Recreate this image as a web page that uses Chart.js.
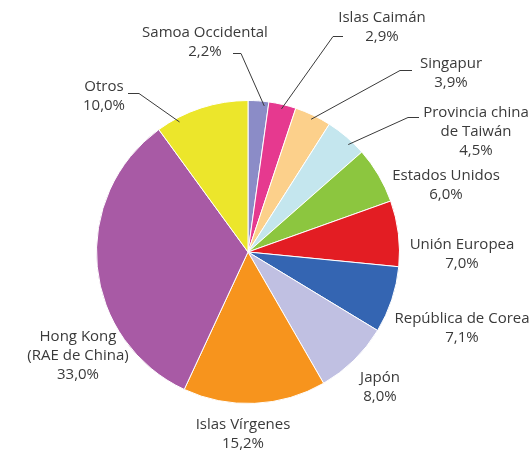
<!DOCTYPE html>
<html>
<head>
<meta charset="utf-8">
<script src="https://cdn.jsdelivr.net/npm/chart.js@4"></script>
<style>
  html, body { margin: 0; padding: 0; background: #fff; }
  #wrap { width: 532px; height: 450px; }
</style>
</head>
<body>
<div id="wrap"><canvas id="pieChart" width="532" height="450"></canvas></div>
<script>
// data
const categories = ["Samoa Occidental", "Islas Caimán", "Singapur", "Provincia china\nde Taiwán",
    "Estados Unidos", "Unión Europea", "República de Corea", "Japón", "Islas Vírgenes",
    "Hong Kong\n(RAE de China)", "Otros"];
const shares = [2.2, 2.9, 3.9, 4.5, 6.0, 7.0, 7.1, 8.0, 15.2, 33.0, 10.0];
const sliceColors = ["#8b8cc7", "#e6398f", "#fcd08b", "#c4e6ee", "#8cc63f", "#e31d23",
    "#3465b2", "#c0c0e2", "#f7941d", "#a85aa5", "#ece62b"];

// label placement: text centre x, first line y, optional leader (elbow x1..x2 at y, fraction along slice)
const labelLayout = [
    { x: 205, y: 33, leader: { x1: 233, x2: 241, y: 53, f: 0.8 } },
    { x: 382, y: 18, leader: { x1: 333, x2: 343, y: 36, f: 0.5 } },
    { x: 451, y: 64, leader: { x1: 400, x2: 412, y: 70, f: 0.5 } },
    { x: 476, y: 113, leader: { x1: 408, x2: 419, y: 117, f: 0.65 } },
    { x: 446, y: 176 },
    { x: 462, y: 245 },
    { x: 462, y: 319 },
    { x: 380, y: 378 },
    { x: 243, y: 425 },
    { x: 78, y: 337 },
    { x: 104, y: 87, leader: { x1: 128, x2: 139, y: 93, f: 0.23 } }
];

const lineGap = 19;

function pct(v) {
    return v.toFixed(1).replace(".", ",") + "%";
}

const outsideLabels = {
    id: "outsideLabels",
    afterDraw(chart) {
        const ctx = chart.ctx;
        const arcs = chart.getDatasetMeta(0).data;
        ctx.save();
        // leader lines
        ctx.strokeStyle = "#3a3a3a";
        ctx.lineWidth = 1;
        labelLayout.forEach((pos, i) => {
            if (!pos.leader) return;
            const arc = arcs[i];
            const p = arc.getProps(["x", "y", "startAngle", "endAngle", "outerRadius"], true);
            const a = p.startAngle + pos.leader.f * (p.endAngle - p.startAngle);
            const r = p.outerRadius * 0.97;
            const ex = p.x + Math.cos(a) * r;
            const ey = p.y + Math.sin(a) * r;
            const elbowX = ex > pos.leader.x2 ? pos.leader.x2 : pos.leader.x1;
            const farX = ex > pos.leader.x2 ? pos.leader.x1 : pos.leader.x2;
            ctx.beginPath();
            ctx.moveTo(farX, pos.leader.y + 0.5);
            ctx.lineTo(elbowX, pos.leader.y + 0.5);
            ctx.lineTo(ex, ey);
            ctx.stroke();
        });
        // texts
        ctx.fillStyle = "#3a3a3a";
        ctx.font = "15px 'Open Sans', sans-serif";
        ctx.textAlign = "center";
        ctx.textBaseline = "middle";
        labelLayout.forEach((pos, i) => {
            const lines = categories[i].split("\n").concat([pct(shares[i])]);
            lines.forEach((t, k) => ctx.fillText(t, pos.x, pos.y + k * lineGap));
        });
        ctx.restore();
    }
};

new Chart(document.getElementById("pieChart").getContext("2d"), {
    type: "pie",
    data: {
        labels: categories,
        datasets: [{
            data: shares,
            backgroundColor: sliceColors,
            borderColor: "#ffffff",
            borderWidth: 1
        }]
    },
    options: {
        responsive: false,
        animation: false,
        layout: { padding: { top: 100, bottom: 46, left: 96, right: 132 } },
        plugins: {
            legend: { display: false },
            tooltip: { enabled: false }
        }
    },
    plugins: [outsideLabels]
});
</script>
</body>
</html>
